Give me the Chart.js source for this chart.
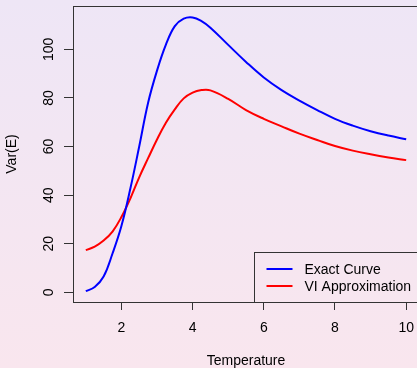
<!DOCTYPE html>
<html><head>
<meta charset="utf-8">
<script src="https://cdn.jsdelivr.net/npm/chart.js@4"></script>
<style>
html,body{margin:0;padding:0;overflow:hidden;width:417px;height:368px;background:linear-gradient(to bottom,#EEE6F6,#F9E6EE);}
#wrap{position:absolute;left:0;top:0;width:420px;height:368px;}
canvas{display:block;}
</style></head>
<body><div id="wrap"><canvas id="c" width="420" height="368"></canvas></div>
<script>
const temperature = [1,1.25,1.5,1.75,2,2.25,2.5,2.75,3,3.25,3.5,3.75,4,4.25,4.5,5,5.5,6,6.5,7,7.5,8,8.5,9,9.5,10];
const exactCurve = [0.5,2.2,6.5,16.0,27.3,42.6,60.0,78.0,91.2,101.9,109.5,112.6,113.1,111.6,108.9,101.8,94.8,88.4,83.2,78.9,75.0,71.4,68.6,66.3,64.5,63.0];
const viApprox = [17.4,18.8,21.3,25.0,31.0,38.6,47.3,55.2,62.9,69.8,75.3,79.8,82.2,83.2,83.1,79.6,75.0,71.4,68.3,65.3,62.7,60.2,58.3,56.8,55.5,54.4];
const xTicks = [2,4,6,8,10];
const yTicks = [0,20,40,60,80,100];
const seriesNames = ['Exact Curve','VI Approximation'];
const seriesColors = ['#0000FF','#FF0000'];
const xTitle = 'Temperature';
const yTitle = 'Var(E)';

const FONT = 'Liberation Sans, Arial, Helvetica, sans-serif';
Chart.defaults.font.family = FONT;
Chart.defaults.font.size = 14;
Chart.defaults.color = '#000';

const series = [exactCurve, viApprox];
const datasets = series.map((vals, i) => ({
  label: seriesNames[i],
  data: temperature.map((t, j) => ({x: t, y: vals[j]})),
  borderColor: seriesColors[i],
  borderWidth: 2,
  pointRadius: 0,
  fill: false,
  tension: 0.4
}));

const extras = {
  id: 'extras',
  afterDraw(chart) {
    const ctx = chart.ctx;
    const a = chart.chartArea;
    const ys = chart.scales.y;
    ctx.save();
    // box
    ctx.strokeStyle = '#333';
    ctx.lineWidth = 1;
    ctx.strokeRect(Math.round(a.left) + 0.5, Math.round(a.top) + 0.5, a.right - a.left, a.bottom - a.top);
    // y tick labels (rotated)
    ctx.fillStyle = '#000';
    ctx.font = '14px ' + FONT;
    ctx.textAlign = 'center';
    ctx.textBaseline = 'alphabetic';
    ys.ticks.forEach(t => {
      const y = ys.getPixelForValue(t.value);
      ctx.save();
      ctx.translate(a.left - 20, y);
      ctx.rotate(-Math.PI / 2);
      ctx.fillText(String(t.value), 0, 0);
      ctx.restore();
    });
    // legend
    const bx = a.right - 165.5, by = a.bottom - 50;
    ctx.strokeStyle = '#333';
    ctx.strokeRect(Math.round(bx) + 0.5, Math.round(by) + 0.5, 200, a.bottom - by);
    ctx.textAlign = 'left';
    chart.data.datasets.forEach((d, i) => {
      const ly = by + 17 + i * 17;
      ctx.strokeStyle = d.borderColor;
      ctx.lineWidth = 2;
      ctx.beginPath();
      ctx.moveTo(bx + 13, ly);
      ctx.lineTo(bx + 39, ly);
      ctx.stroke();
      ctx.fillStyle = '#000';
      ctx.fillText(d.label, bx + 51, ly + 5);
    });
    ctx.restore();
  }
};

new Chart(document.getElementById('c'), {
  type: 'line',
  data: {datasets},
  options: {
    responsive: false,
    animation: false,
    devicePixelRatio: 1,
    layout: {padding: {top: 6, right: 1, left: 0, bottom: 0}},
    plugins: {legend: {display: false}, tooltip: {enabled: false}},
    scales: {
      x: {
        type: 'linear',
        min: 0.64, max: 10.36,
        afterBuildTicks: s => { s.ticks = xTicks.map(v => ({value: v})); },
        afterFit: s => { s.height = 66; s.paddingLeft = 0; s.paddingRight = 0; },
        grid: {drawOnChartArea: false, drawTicks: true, tickLength: 8, color: '#333'},
        border: {display: false},
        ticks: {padding: 10, color: '#000', maxRotation: 0, autoSkip: false},
        title: {display: true, text: xTitle, padding: {top: 0, bottom: -2}, color: '#000'}
      },
      y: {
        type: 'linear',
        min: -3.96, max: 117.8,
        afterBuildTicks: s => { s.ticks = yTicks.map(v => ({value: v})); },
        afterFit: s => { s.width = 73; s.paddingTop = 0; s.paddingBottom = 0; },
        grid: {drawOnChartArea: false, drawTicks: true, tickLength: 9, color: '#333'},
        border: {display: false},
        ticks: {display: false},
        title: {display: true, text: yTitle, padding: {top: 4, bottom: 4}, color: '#000'}
      }
    }
  },
  plugins: [extras]
});
</script>
</body></html>
